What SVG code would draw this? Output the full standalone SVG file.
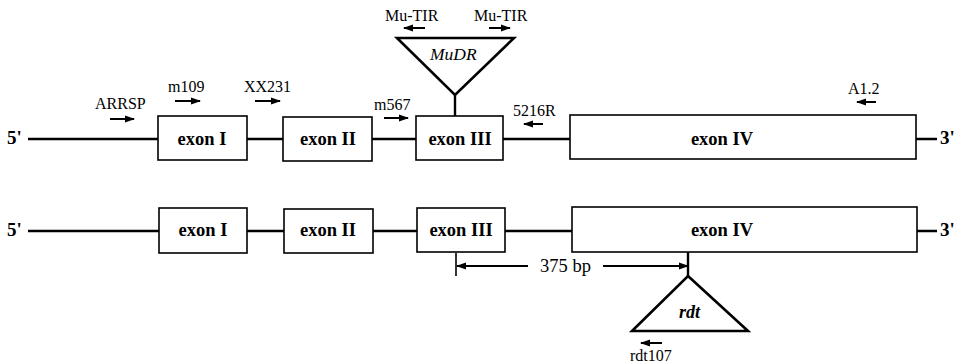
<svg xmlns="http://www.w3.org/2000/svg" width="962" height="363" viewBox="0 0 962 363">
<style>
text{font-family:"Liberation Serif","Times New Roman",serif;fill:#000}
.lbl{font-size:16px}
.ex{font-size:18.5px;font-weight:bold;text-anchor:middle}
.end{font-size:19px;font-weight:bold}
.box{fill:#fff;stroke:#000;stroke-width:1.6}
.gene{stroke:#000;stroke-width:2.4;fill:none}
.arr{stroke:#000;stroke-width:2;fill:none;marker-end:url(#ah)}
.tri{fill:#fff;stroke:#000;stroke-width:2.6;stroke-linejoin:miter}
</style>
<defs>
<marker id="ah" markerUnits="userSpaceOnUse" markerWidth="10" markerHeight="10" viewBox="0 0 10 10" refX="9" refY="5" orient="auto">
<path d="M0,1.5 L10,5 L0,8.5 Z" fill="#000"/>
</marker>
</defs>
<g id="connectors">
<line class="gene" x1="28" y1="139" x2="937" y2="139"/>
<line class="gene" x1="28" y1="231" x2="937" y2="231"/>
<line class="gene" x1="455" y1="95" x2="455" y2="117"/>
<line class="gene" x1="688" y1="252" x2="688" y2="276"/>
<line class="arr" x1="110" y1="119" x2="134" y2="119"/>
<line class="arr" x1="175" y1="101" x2="200" y2="101"/>
<line class="arr" x1="255" y1="101" x2="280" y2="101"/>
<line class="arr" x1="384" y1="118" x2="408" y2="118"/>
<line class="arr" x1="543" y1="124" x2="524" y2="124"/>
<line class="arr" x1="425" y1="28" x2="404" y2="28"/>
<line class="arr" x1="489" y1="28" x2="510" y2="28"/>
<line class="arr" x1="876" y1="102" x2="857" y2="102"/>
<line class="arr" x1="662" y1="343" x2="641" y2="343"/>
<line x1="456" y1="253" x2="456" y2="276" stroke="#000" stroke-width="1.6"/>
<line class="arr" x1="528" y1="266" x2="457" y2="266"/>
<line class="arr" x1="603" y1="266" x2="688" y2="266"/>
</g>
<g id="top-5">
<text class="end" x="7" y="144">5'</text>
</g>
<g id="top-exon1"><rect class="box" x="158" y="116" width="89" height="44"/><text class="ex" x="202" y="145">exon I</text></g>
<g id="top-exon2"><rect class="box" x="283" y="117" width="89" height="44"/><text class="ex" x="328" y="145">exon II</text></g>
<g id="top-exon3"><rect class="box" x="416" y="116" width="87" height="44"/><text class="ex" x="460" y="145">exon III</text></g>
<g id="top-exon4"><rect class="box" x="570" y="115" width="346" height="44"/><text class="ex" x="722" y="145">exon IV</text></g>
<g id="top-3"><text class="end" x="940" y="144">3'</text></g>
<g id="mudr">
<polygon class="tri" points="397,38 514,38 455,95"/>
<text x="430" y="60" style="font-size:17.5px;font-style:italic">MuDR</text>
</g>
<g id="labels-top">
<text class="lbl" x="95" y="109">ARRSP</text>
<text class="lbl" x="168" y="92">m109</text>
<text class="lbl" x="244" y="92">XX231</text>
<text class="lbl" x="374" y="110">m567</text>
<text class="lbl" x="513" y="116">5216R</text>
<text class="lbl" x="385" y="21">Mu-TIR</text>
<text class="lbl" x="474" y="21">Mu-TIR</text>
<text class="lbl" x="848" y="94">A1.2</text>
</g>
<g id="bot-5"><text class="end" x="7" y="236">5'</text></g>
<g id="bot-exon1"><rect class="box" x="159" y="208" width="88" height="45"/><text class="ex" x="203" y="236">exon I</text></g>
<g id="bot-exon2"><rect class="box" x="284" y="209" width="89" height="44"/><text class="ex" x="328" y="236">exon II</text></g>
<g id="bot-exon3"><rect class="box" x="417" y="208" width="88" height="44"/><text class="ex" x="461" y="236">exon III</text></g>
<g id="bot-exon4"><rect class="box" x="572" y="207" width="345" height="45"/><text class="ex" x="722" y="236">exon IV</text></g>
<g id="bot-3"><text class="end" x="940" y="236">3'</text></g>
<g id="dimension"><text x="540" y="272" style="font-size:18.5px">375 bp</text></g>
<g id="rdt">
<polygon class="tri" points="688,276 748,331 632,331"/>
<text x="679" y="318" style="font-size:18px;font-style:italic;font-weight:bold">rdt</text>
</g>
<g id="labels-bot"><text class="lbl" x="630" y="361">rdt107</text></g>
</svg>
